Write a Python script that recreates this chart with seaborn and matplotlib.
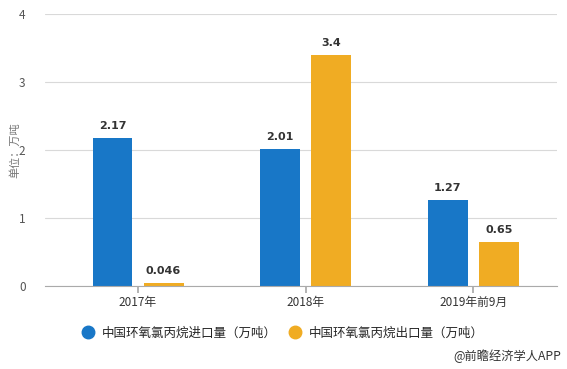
import matplotlib
matplotlib.use("Agg")
import matplotlib.pyplot as plt
import seaborn as sns
import pandas as pd

categories = ["2017年", "2018年", "2019年前9月"]
series_names = ["中国环氧氯丙烷进口量（万吨）", "中国环氧氯丙烷出口量（万吨）"]
imports = [2.17, 2.01, 1.27]
exports = [0.046, 3.4, 0.65]
labels_imports = ["2.17", "2.01", "1.27"]
labels_exports = ["0.046", "3.4", "0.65"]
colors = ["#1877c7", "#f0ac23"]

sns.set_theme(style="white")
plt.rcParams['font.family'] = ['Noto Sans CJK SC', 'DejaVu Sans']

df = pd.DataFrame({
    "cat": categories * 2,
    "series": [series_names[0]] * 3 + [series_names[1]] * 3,
    "val": imports + exports,
})

fig = plt.figure(figsize=(5.67, 3.69), dpi=100)
ax = fig.add_axes([45/567, 1-286/369, 512/567, 272/369])

sns.barplot(data=df, x="cat", y="val", hue="series", palette=colors,
            width=0.61, gap=0.22, ax=ax, legend=False, saturation=1,
            linewidth=0, edgecolor="none")

ax.set_xlim(-0.555, 2.50)
ax.set_ylim(0, 4)
ax.set_yticks([0, 1, 2, 3, 4])
ax.yaxis.grid(True, color="#d9d9d9", linewidth=0.8)
ax.set_axisbelow(True)
for s in ["top", "right", "left"]:
    ax.spines[s].set_visible(False)
ax.spines["bottom"].set_color("#aaaaaa")
ax.spines["bottom"].set_linewidth(0.8)
ax.tick_params(axis="x", bottom=True, length=5, color="#aaaaaa", labelsize=8.5, labelcolor="#333333", pad=2)
ax.tick_params(axis="y", left=False, labelsize=8.5, labelcolor="#555555", pad=8)
ax.set_xlabel("")
ax.set_ylabel("")
fig.text(15/567, 1-150/369, "单位：万吨", rotation=90, ha="center", va="center",
         fontsize=8, color="#777777")

all_labels = [labels_imports, labels_exports]
for cont, labs in zip(ax.containers, all_labels):
    ax.bar_label(cont, labels=labs, padding=5, fontsize=8, fontweight="bold",
                 color="#333333", family="DejaVu Sans")

# legend
from matplotlib.lines import Line2D
handles = [Line2D([], [], marker="o", linestyle="", markersize=9, markerfacecolor=c, markeredgecolor=c) for c in colors]
fig.legend(handles, series_names, loc="center left", bbox_to_anchor=(69/567, 1-333/369),
           ncol=2, frameon=False, fontsize=9, handletextpad=0.5, columnspacing=0.9,
           handlelength=1.2)

fig.text(561/567, 1-356/369, "@前瞻经济学人APP", ha="right", va="center", fontsize=8.8, color="#333333")

fig.savefig("out.png", dpi=100)
